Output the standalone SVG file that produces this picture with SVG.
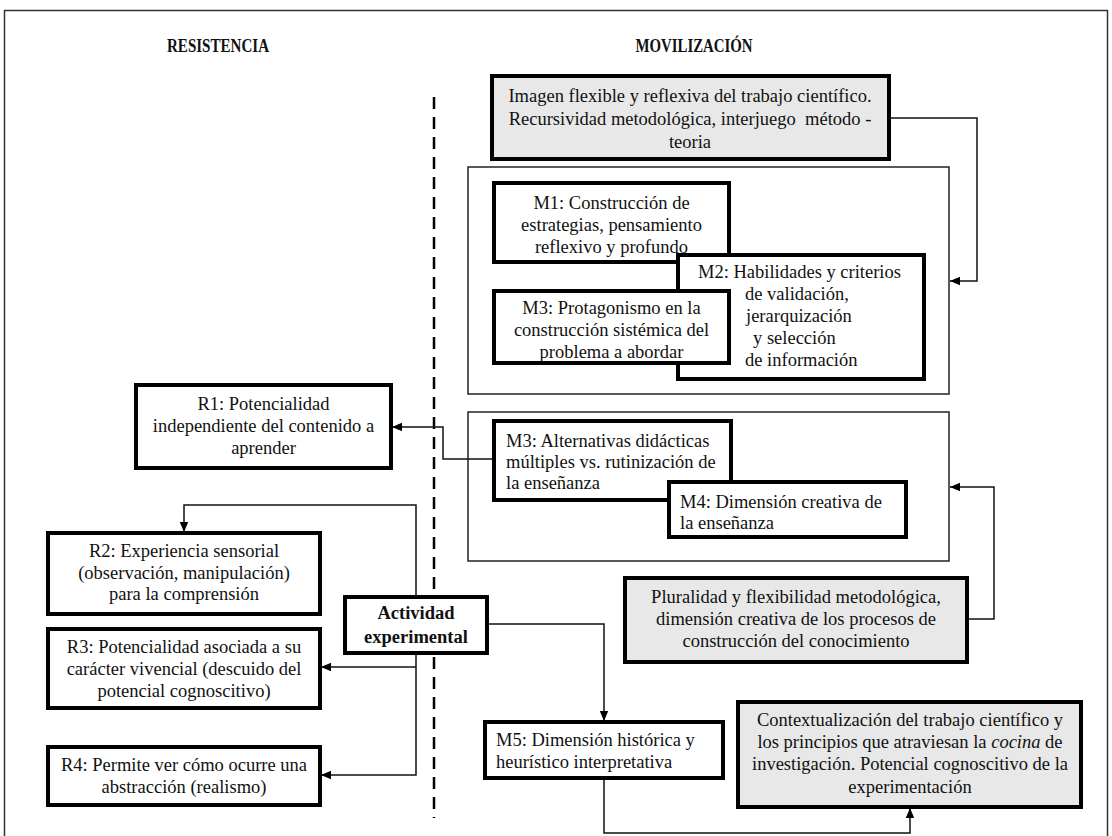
<svg xmlns="http://www.w3.org/2000/svg" width="1112" height="836" viewBox="0 0 1112 836">
  <style>
    text { font-family: "Liberation Serif", "Times New Roman", serif; font-size: 18.5px; fill: #111; }
    .c { text-anchor: middle; }
    .head { font-size: 18px; font-weight: bold; text-anchor: middle; }
    .bold { font-weight: bold; }
    .box { fill: #fff; stroke: #000; stroke-width: 4; }
    .gray { fill: #e8e8e8; stroke: #000; stroke-width: 4; }
    .frame { fill: none; stroke: #222; stroke-width: 1.5; }
    .link { fill: none; stroke: #111; stroke-width: 1.5; }
  </style>
  <defs>
    <marker id="arr" markerUnits="userSpaceOnUse" markerWidth="10" markerHeight="10" viewBox="0 0 10 10" refX="10" refY="5" orient="auto">
      <path d="M0,0.8 L10,5 L0,9.2 Z" fill="#000"/>
    </marker>
  </defs>

  <rect x="0" y="0" width="1112" height="836" fill="#fff"/>
  <!-- outer frame -->
  <rect x="4.5" y="10.5" width="1103" height="830" fill="none" stroke="#333" stroke-width="1.5"/>

  <!-- column headings -->
  <text class="head" x="218" y="52" textLength="102" lengthAdjust="spacingAndGlyphs">RESISTENCIA</text>
  <text class="head" x="694" y="52" textLength="117" lengthAdjust="spacingAndGlyphs">MOVILIZACIÓN</text>

  <!-- divider -->
  <line x1="434" y1="97" x2="434" y2="818" stroke="#000" stroke-width="2.5" stroke-dasharray="12 8"/>

  <!-- grouping frames -->
  <rect id="frame-m1" class="frame" x="468" y="167" width="481" height="227"/>
  <rect id="frame-m2" class="frame" x="468" y="412" width="481" height="149"/>

  <!-- connectors -->
  <g id="connectors">
    <polyline class="link" points="889,118 977,118 977,281 950,281" marker-end="url(#arr)"/>
    <polyline class="link" points="967,619 994,619 994,487 950,487" marker-end="url(#arr)"/>
    <polyline class="link" points="494,459 443,459 443,427 392,427" marker-end="url(#arr)"/>
    <polyline class="link" points="416,597 416,505 184,505 184,532" marker-end="url(#arr)"/>
    <polyline class="link" points="416,653 416,775 321,775" marker-end="url(#arr)"/>
    <polyline class="link" points="416,667 321,667" marker-end="url(#arr)"/>
    <polyline class="link" points="487,624 604,624 604,721" marker-end="url(#arr)"/>
    <polyline class="link" points="604,778 604,833 910,833 910,808" marker-end="url(#arr)"/>
  </g>

  <g id="imagen">
    <rect class="gray" x="492" y="76" width="397" height="83"/>
    <text class="c" x="690" y="102">Imagen flexible y reflexiva del trabajo científico.</text>
    <text class="c" x="690" y="125" xml:space="preserve">Recursividad metodológica, interjuego  método -</text>
    <text class="c" x="690" y="148">teoria</text>
  </g>

  <g id="m1">
    <rect class="box" x="494" y="183" width="235" height="79"/>
    <text class="c" x="611.5" y="209">M1: Construcción de</text>
    <text class="c" x="611.5" y="231">estrategias, pensamiento</text>
    <text class="c" x="611.5" y="253">reflexivo y profundo</text>
  </g>

  <g id="m2">
    <rect class="box" x="678" y="255" width="246" height="124"/>
    <text x="698" y="278">M2: Habilidades y criterios</text>
    <text x="745" y="300">de validación,</text>
    <text x="746" y="322">jerarquización</text>
    <text x="753" y="344">y selección</text>
    <text x="745" y="366">de información</text>
  </g>

  <g id="m3a">
    <rect class="box" x="494" y="291" width="235" height="72"/>
    <text class="c" x="611.5" y="314">M3: Protagonismo en la</text>
    <text class="c" x="611.5" y="336">construcción sistémica del</text>
    <text class="c" x="611.5" y="358">problema a abordar</text>
  </g>

  <g id="m3b">
    <rect class="box" x="494" y="421" width="237" height="79"/>
    <text x="506" y="447">M3: Alternativas didácticas</text>
    <text x="506" y="468">múltiples vs. rutinización de</text>
    <text x="506" y="489">la enseñanza</text>
  </g>

  <g id="m4">
    <rect class="box" x="669" y="482" width="237" height="55"/>
    <text x="680" y="508">M4: Dimensión creativa de</text>
    <text x="680" y="529">la enseñanza</text>
  </g>

  <g id="r1">
    <rect class="box" x="136" y="385" width="255" height="83"/>
    <text class="c" x="263.5" y="410">R1: Potencialidad</text>
    <text class="c" x="263.5" y="432">independiente del contenido a</text>
    <text class="c" x="263.5" y="454">aprender</text>
  </g>

  <g id="r2">
    <rect class="box" x="48" y="533" width="272" height="81"/>
    <text class="c" x="184" y="557">R2: Experiencia sensorial</text>
    <text class="c" x="184" y="579">(observación, manipulación)</text>
    <text class="c" x="184" y="600">para la comprensión</text>
  </g>

  <g id="actividad">
    <rect class="box" x="345" y="597" width="142" height="56"/>
    <text class="c bold" x="416" y="619">Actividad</text>
    <text class="c bold" x="416" y="643">experimental</text>
  </g>

  <g id="r3">
    <rect class="box" x="48" y="629" width="272" height="79"/>
    <text class="c" x="184" y="653">R3: Potencialidad asociada a su</text>
    <text class="c" x="184" y="675">carácter vivencial (descuido del</text>
    <text class="c" x="184" y="697">potencial cognoscitivo)</text>
  </g>

  <g id="r4">
    <rect class="box" x="48" y="747" width="272" height="58"/>
    <text class="c" x="184" y="771">R4: Permite ver cómo ocurre una</text>
    <text class="c" x="184" y="793">abstracción (realismo)</text>
  </g>

  <g id="pluralidad">
    <rect class="gray" x="625" y="578" width="342" height="84"/>
    <text class="c" x="796" y="603">Pluralidad y flexibilidad metodológica,</text>
    <text class="c" x="796" y="625">dimensión creativa de los procesos de</text>
    <text class="c" x="796" y="647">construcción del conocimiento</text>
  </g>

  <g id="m5">
    <rect class="box" x="485" y="722" width="238" height="56"/>
    <text x="496" y="746">M5: Dimensión histórica y</text>
    <text x="496" y="768">heurístico interpretativa</text>
  </g>

  <g id="contexto">
    <rect class="gray" x="738" y="702" width="343" height="105"/>
    <text class="c" x="910" y="726">Contextualización del trabajo científico y</text>
    <text class="c" x="910" y="748">los principios que atraviesan la <tspan font-style="italic">cocina</tspan> de</text>
    <text class="c" x="910" y="770">investigación. Potencial cognoscitivo de la</text>
    <text class="c" x="910" y="793">experimentación</text>
  </g>
</svg>
